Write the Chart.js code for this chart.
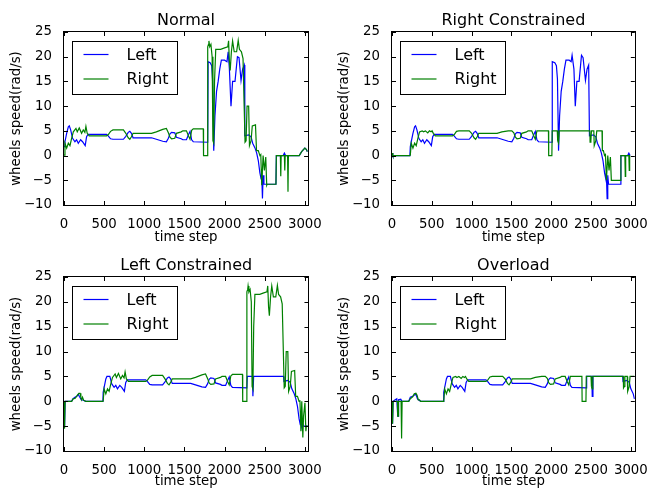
<!DOCTYPE html>
<html lang="en">
<head>
<meta charset="UTF-8">
<title>Wheels speed</title>
<script src="https://cdn.jsdelivr.net/npm/chart.js"></script>
<style>
  body { margin: 0; background: #fff; }
  .panel { position: absolute; width: 326px; height: 244px; }
</style>
</head>
<body>
<div class="panel" style="left:0;top:0"><canvas id="c0" width="326" height="244"></canvas></div>
<div class="panel" style="left:326px;top:0"><canvas id="c1" width="326" height="244"></canvas></div>
<div class="panel" style="left:0;top:244px"><canvas id="c2" width="326" height="244"></canvas></div>
<div class="panel" style="left:326px;top:244px"><canvas id="c3" width="326" height="244"></canvas></div>
<script>
// [time step, wheel speed]
const normalLeft = [[0,1.8],[12,2.8],[33,4.5],[54,5.8],[66,6.0],[83,5.2],[107,3.5],[136,2.8],[157,3.2],[178,2.5],[207,3.2],[231,2.8],[264,2.0],[281,3.8],[300,4.3],
  [530,4.3],[550,4.0],[580,3.4],[610,3.3],[740,3.3],[770,3.9],[800,4.7],[820,4.9],[840,4.5],[860,3.6],
  [1090,3.6],[1150,3.3],[1230,2.9],[1275,2.8],[1300,3.5],[1320,4.4],[1340,4.7],[1380,4.6],[1400,3.7],[1460,3.4],[1480,3.2],[1525,3.2],[1550,4.2],[1570,4.9],[1590,3.2],[1610,2.8],[1790,2.7],
  [1795,19.0],[1820,18.8],[1840,18.2],[1850,15.5],[1865,1.0],[1880,8.0],[1900,13.0],[1920,15.0],[1940,17.5],[1960,19.3],[2000,19.3],[2030,19.0],[2045,21.0],[2060,17.5],[2080,10.0],[2100,15.0],[2130,15.0],[2160,20.0],[2180,19.8],[2205,15.2],[2225,17.5],[2245,18.3],
  [2252,4.0],[2300,4.2],[2330,3.8],[2350,2.5],[2380,1.5],[2400,0.5],[2420,-1.0],[2440,-3.5],[2455,-4.7],[2462,-3.5],[2472,-8.7],[2480,-4.0],[2490,-5.8],[2640,-5.8],[2645,0],[2730,0],[2745,0.5],[2760,0],[2930,0],[2960,0.8],[3000,1.5],[3020,1.2],[3030,0.8]];
const normalRight = [[0,0.1],[12,2.5],[33,1.5],[54,2.5],[74,2.0],[95,3.5],[116,4.8],[149,5.5],[165,4.8],[190,5.6],[219,4.5],[240,5.2],[260,4.7],[273,5.9],[289,4.5],[314,4.0],
  [530,4.0],[550,4.2],[580,4.9],[610,5.2],[740,5.2],[770,4.5],[800,3.6],[820,3.3],[840,3.8],[860,4.5],
  [1090,4.5],[1150,4.8],[1230,5.3],[1275,5.5],[1300,4.6],[1320,3.7],[1340,3.4],[1380,3.5],[1400,4.5],[1460,4.8],[1480,5.0],[1525,5.0],[1550,4.0],[1570,3.3],[1590,5.1],[1610,5.4],[1735,5.4],[1738,0],[1786,0],
  [1790,22.0],[1800,22.5],[1805,23.2],[1815,22.0],[1830,22.5],[1845,20.0],[1855,3.0],[1865,2.5],[1875,15.0],[1890,21.5],[1950,21.5],[2000,21.8],[2040,22.0],[2050,23.2],[2060,19.0],[2070,17.2],[2085,21.0],[2100,23.2],[2120,21.0],[2150,21.0],[2170,23.3],[2185,21.5],[2210,21.0],[2230,19.6],
  [2255,2.7],[2268,3.0],[2280,10.0],[2300,10.0],[2310,2.0],[2330,3.0],[2345,6.0],[2385,6.2],[2398,1.0],[2420,1.0],[2440,0],[2451,0.2],[2463,-6.0],[2480,0],[2496,-3.0],[2513,-0.3],[2525,-6.0],[2530,-5.8],[2640,-5.8],[2645,0],[2695,0],[2700,-4.2],[2705,0],[2745,0],[2750,-3.0],[2755,0],[2785,0],[2790,-7.3],[2795,0],[2930,0],[2960,0.8],[3000,1.5],[3020,1.2],[3030,0.8]];

const rightConLeft = [[0,0.5],[8,0.5],[12,0],[225,0],[230,1.8],[242,2.8],[263,4.5],[284,5.8],[296,6.0],[313,5.2],[337,3.5],[366,2.8],[387,3.2],[408,2.5],[437,3.2],[461,2.8],[494,2.0],[511,3.8],[530,4.3],
  [760,4.3],[780,4.0],[810,3.4],[840,3.3],[970,3.3],[1000,3.9],[1030,4.7],[1050,4.9],[1070,4.5],[1090,3.6],
  [1320,3.6],[1380,3.3],[1460,2.9],[1505,2.8],[1530,3.5],[1550,4.4],[1570,4.7],[1610,4.6],[1630,3.7],[1690,3.4],[1710,3.2],[1755,3.2],[1780,4.2],[1800,4.9],[1820,3.2],[1840,2.8],[2010,2.7],
  [2013,19.0],[2045,18.8],[2065,18.2],[2078,15.5],[2092,1.0],[2105,8.0],[2125,13.0],[2145,15.0],[2165,17.5],[2185,19.3],[2225,19.3],[2250,19.0],[2262,20.3],[2285,17.5],[2302,10.0],[2322,15.0],[2350,15.0],[2380,20.3],[2400,19.8],[2430,15.2],[2450,17.5],[2470,18.3],
  [2480,4.0],[2530,4.2],[2560,3.8],[2580,2.5],[2610,1.5],[2630,0.5],[2650,-1.0],[2670,-3.5],[2685,-4.7],[2692,-3.5],[2702,-8.7],[2710,-4.0],[2720,-5.8],[2870,-5.8],[2875,0],[2960,0],[2975,0.5],[2990,0]];
const rightConRight = [[0,0.5],[8,0.5],[12,0],[225,0],[230,0.1],[242,2.5],[263,1.5],[284,2.5],[304,2.0],[325,3.5],[346,4.8],[379,5.0],[395,4.8],[420,5.0],[449,4.6],[470,5.0],[490,4.8],[503,5.0],[519,4.5],[544,4.0],
  [760,4.0],[780,4.2],[810,4.9],[840,5.0],[970,5.0],[1000,4.5],[1030,3.6],[1050,3.3],[1070,3.8],[1090,4.5],
  [1320,4.5],[1380,4.8],[1460,5.0],[1505,5.0],[1530,4.6],[1550,3.7],[1570,3.4],[1610,3.5],[1630,4.5],[1690,4.8],[1710,5.0],[1755,5.0],[1780,4.0],[1800,3.3],[1820,5.0],[1965,5.0],[1968,0],[2008,0],[2012,5.0],
  [2076,5.0],[2081,3.0],[2092,2.5],[2100,5.0],[2485,5.0],[2488,2.7],[2498,3.0],[2505,5.0],[2535,5.0],[2540,2.0],[2560,3.0],[2572,5.0],[2638,5.0],[2642,1.0],[2655,1.0],[2670,0],[2681,0.2],[2693,-5.0],[2710,0],[2726,-3.0],[2743,-0.3],[2755,-5.0],[2870,-5.0],[2875,0],[2925,0],[2930,-4.2],[2935,0],[2975,0],[2980,-3.0],[2985,0],[2990,0]];

const leftConLeft = [[0,0],[4,-5.0],[10,-5.0],[14,0],[95,0],[110,0.5],[136,0.8],[160,1.0],[178,1.4],[190,1.0],[215,0.3],[240,0.2],[270,0],[485,0],
  [488,1.8],[500,2.8],[521,4.5],[535,5.0],[571,5.0],[595,3.5],[624,2.8],[645,3.2],[666,2.5],[695,3.2],[719,2.8],[752,2.0],[769,3.8],[788,4.3],
  [1018,4.3],[1038,4.0],[1068,3.4],[1098,3.3],[1228,3.3],[1258,3.9],[1288,4.7],[1308,4.9],[1328,4.5],[1348,3.6],
  [1578,3.6],[1638,3.3],[1718,2.9],[1763,2.8],[1788,3.5],[1808,4.4],[1828,4.7],[1868,4.6],[1888,3.7],[1948,3.4],[1968,3.2],[2013,3.2],[2038,4.2],[2058,4.9],[2078,3.2],[2098,2.8],[2278,2.7],
  [2283,5.0],[2348,5.0],[2353,1.0],[2362,5.0],[2735,5.0],[2740,4.0],[2788,4.2],[2818,3.8],[2838,2.5],[2868,1.5],[2888,0.5],[2908,-1.0],[2928,-3.5],[2943,-4.7],[2950,-3.5],[2958,-5.0],[2968,-4.0],[2978,-5.0],[3035,-5.0]];
const leftConRight = [[0,0],[4,-5.5],[10,-5.3],[14,0],[95,0],[115,0.5],[140,0.6],[165,1.2],[185,1.6],[200,1.6],[210,0.8],[219,0.3],[230,0.8],[245,0.2],[273,0],[485,0],
  [488,0.1],[500,2.5],[521,1.5],[542,2.5],[562,2.0],[583,3.5],[604,4.8],[637,5.5],[653,4.8],[678,5.6],[707,4.5],[728,5.2],[748,4.7],[761,5.9],[777,4.5],[802,4.0],
  [1018,4.0],[1038,4.2],[1068,4.9],[1098,5.2],[1228,5.2],[1258,4.5],[1288,3.6],[1308,3.3],[1328,3.8],[1348,4.5],
  [1578,4.5],[1638,4.8],[1718,5.3],[1763,5.5],[1788,4.6],[1808,3.7],[1828,3.4],[1868,3.5],[1888,4.5],[1948,4.8],[1968,5.0],[2013,5.0],[2038,4.0],[2058,3.3],[2078,5.1],[2098,5.4],[2223,5.4],[2226,0],[2274,0],
  [2278,22.0],[2288,22.5],[2293,23.2],[2303,22.0],[2318,22.5],[2333,20.0],[2343,3.0],[2353,2.5],[2363,15.0],[2378,21.5],[2438,21.5],[2488,21.8],[2528,22.0],[2538,23.2],[2548,19.0],[2558,17.2],[2573,21.0],[2588,23.2],[2608,21.0],[2638,21.0],[2658,23.3],[2673,21.5],[2698,21.0],[2718,19.6],
  [2743,2.7],[2756,3.0],[2768,10.0],[2788,10.0],[2798,2.0],[2818,3.0],[2833,6.0],[2873,6.2],[2886,1.0],[2908,1.0],[2928,0],[2939,0.2],[2951,-6.0],[2962,0],[2975,-7.3],[2984,-3.0],[3001,-0.3],[3013,-6.0],[3018,-5.0],[3035,-5.0]];

const overloadLeft = [[0,0],[4,-4.5],[10,-4.5],[14,0],[40,0.3],[60,0.5],[72,-3.0],[78,-3.0],[82,0.3],[110,0.4],[125,0],[210,0],[230,0.8],[260,1.0],[285,1.3],[300,1.4],[320,0.5],[340,0.2],[360,0],[647,0],
  [650,1.8],[662,2.8],[683,4.5],[697,5.0],[733,5.0],[757,3.5],[786,2.8],[807,3.2],[828,2.5],[857,3.2],[881,2.8],[914,2.0],[931,3.8],[950,4.3],
  [1180,4.3],[1200,4.0],[1230,3.4],[1260,3.3],[1390,3.3],[1420,3.9],[1450,4.7],[1470,4.9],[1490,4.5],[1510,3.6],
  [1740,3.6],[1800,3.3],[1880,2.9],[1925,2.8],[1950,3.5],[1970,4.4],[1990,4.7],[2030,4.6],[2050,3.7],[2110,3.4],[2130,3.2],[2175,3.2],[2200,4.2],[2220,4.9],[2240,3.2],[2260,2.8],[2440,2.7],
  [2445,5.0],[2510,5.0],[2515,1.0],[2524,5.0],[2897,5.0],[2902,4.0],[2950,4.2],[2980,3.8],[3000,2.5],[3030,1.5],[3045,0.5]];
const overloadRight = [[0,0],[4,-4.5],[10,-4.5],[14,0],[68,0],[72,-3.0],[78,-3.0],[82,0],[114,0],[118,-7.5],[123,-7.5],[127,0],[210,0],[230,0.5],[260,0.9],[280,1.5],[300,1.6],[315,1.2],[330,0.3],[345,0.3],[360,0],[647,0],
  [650,0.1],[662,2.5],[683,1.5],[704,2.5],[724,2.0],[745,3.5],[766,4.8],[799,5.0],[815,4.8],[840,5.0],[869,4.6],[890,5.0],[910,4.8],[923,5.0],[939,4.5],[964,4.0],
  [1180,4.0],[1200,4.2],[1230,4.9],[1260,5.0],[1390,5.0],[1420,4.5],[1450,3.6],[1470,3.3],[1490,3.8],[1510,4.5],
  [1740,4.5],[1800,4.8],[1880,5.0],[1925,5.0],[1950,4.6],[1970,3.7],[1990,3.4],[2030,3.5],[2050,4.5],[2110,4.8],[2130,5.0],[2175,5.0],[2200,4.0],[2220,3.3],[2240,5.0],[2385,5.0],[2388,0],[2436,0],[2440,5.0],
  [2500,5.0],[2505,3.0],[2515,2.5],[2522,5.0],[2905,5.0],[2908,2.7],[2918,3.0],[2925,5.0],[2955,5.0],[2960,2.0],[2980,3.0],[2990,5.0],[3045,5.0]];

const seriesNames = ['Left', 'Right'];
const seriesColors = ['#0000ff', '#008000'];
const panelTitles = ['Normal', 'Right Constrained', 'Left Constrained', 'Overload'];
const panelData = [[normalLeft, normalRight], [rightConLeft, rightConRight], [leftConLeft, leftConRight], [overloadLeft, overloadRight]];
const xMaxes = [3040, 3050, 3045, 3050];
const xTickValues = [0, 500, 1000, 1500, 2000, 2500, 3000];
const yTickValues = [-10, -5, 0, 5, 10, 15, 20, 25];

const FONT = 'DejaVu Sans';
Chart.defaults.color = '#000';
Chart.defaults.font.family = FONT;

// matplotlib-like frame, inward ticks on all sides, title over the axes, boxed legend
const frameAndLegend = {
  id: 'frameAndLegend',
  afterDatasetsDraw(chart, args, opts) {
    const { ctx, chartArea: a, scales: { x, y } } = chart;
    ctx.save();
    ctx.strokeStyle = '#000';
    ctx.lineWidth = 1;
    ctx.beginPath();
    x.ticks.forEach(t => {
      const px = Math.round(x.getPixelForValue(t.value)) + 0.5;
      ctx.moveTo(px, a.bottom); ctx.lineTo(px, a.bottom - 4);
      ctx.moveTo(px, a.top); ctx.lineTo(px, a.top + 4);
    });
    y.ticks.forEach(t => {
      const py = Math.round(y.getPixelForValue(t.value)) + 0.5;
      ctx.moveTo(a.left, py); ctx.lineTo(a.left + 4, py);
      ctx.moveTo(a.right, py); ctx.lineTo(a.right - 4, py);
    });
    ctx.stroke();
    ctx.strokeRect(Math.round(a.left) - 0.5, Math.round(a.top) - 0.5, Math.round(a.right - a.left) + 1, Math.round(a.bottom - a.top) + 1);

    ctx.fillStyle = '#000';
    ctx.font = '16px "' + FONT + '"';
    ctx.textAlign = 'center';
    ctx.textBaseline = 'middle';
    ctx.fillText(opts.title, (a.left + a.right) / 2, opts.titleY);

    const bx = Math.round(a.left) + 8.5, by = Math.round(a.top) + 9.5;
    ctx.fillStyle = '#fff';
    ctx.fillRect(bx, by, 105, 53);
    ctx.strokeRect(bx, by, 105, 53);
    ctx.textAlign = 'left';
    chart.data.datasets.forEach((ds, i) => {
      const ry = by + 13 + i * 24.5;
      ctx.strokeStyle = ds.borderColor;
      ctx.lineWidth = 1.2;
      ctx.beginPath();
      ctx.moveTo(bx + 11, ry); ctx.lineTo(bx + 36, ry);
      ctx.stroke();
      ctx.fillStyle = '#000';
      ctx.fillText(ds.label, bx + 54, ry + 1);
    });
    ctx.restore();
  }
};

const fmt = v => String(v).replace('-', '\u2212');

panelTitles.forEach((title, p) => {
  const right = p % 2 === 1, bottom = p >= 2;
  new Chart(document.getElementById('c' + p), {
    type: 'line',
    data: {
      datasets: panelData[p].map((pts, i) => ({
        label: seriesNames[i],
        data: pts,
        borderColor: seriesColors[i],
        borderWidth: 1.2,
        pointRadius: 0,
        tension: 0,
        fill: false,
        order: 1 - i
      }))
    },
    options: {
      responsive: false,
      animation: false,
      events: [],
      layout: { padding: { left: 0, right: right ? 14 : (bottom ? 16 : 17), top: bottom ? 33 : 32, bottom: 0 } },
      plugins: {
        legend: { display: false },
        tooltip: { enabled: false },
        title: { display: false },
        frameAndLegend: { title: title, titleY: bottom ? 22.2 : 21.2 }
      },
      scales: {
        x: {
          type: 'linear',
          min: 0,
          max: xMaxes[p],
          afterBuildTicks: s => { s.ticks = xTickValues.map(v => ({ value: v })); },
          afterFit: s => { s.height = bottom ? 37 : 39; },
          grid: { display: false },
          border: { display: false },
          ticks: { autoSkip: false, maxRotation: 0, padding: 4, font: { size: 13.3 }, callback: fmt },
          title: { display: true, text: 'time step', font: { size: 13.3, lineHeight: 1 }, padding: { top: 0, bottom: 0 } }
        },
        y: {
          min: -10,
          max: 25,
          afterBuildTicks: s => { s.ticks = yTickValues.map(v => ({ value: v })); },
          afterFit: s => { s.width = right ? 66 : 64; },
          grid: { display: false },
          border: { display: false },
          ticks: { autoSkip: false, padding: 4, font: { size: 13.3 }, callback: fmt },
          title: { display: true, text: 'wheels speed(rad/s)', font: { size: 13.3, lineHeight: 1 }, padding: { top: right ? 12 : 10, bottom: 0 } }
        }
      }
    },
    plugins: [frameAndLegend]
  });
});
</script>
</body>
</html>
